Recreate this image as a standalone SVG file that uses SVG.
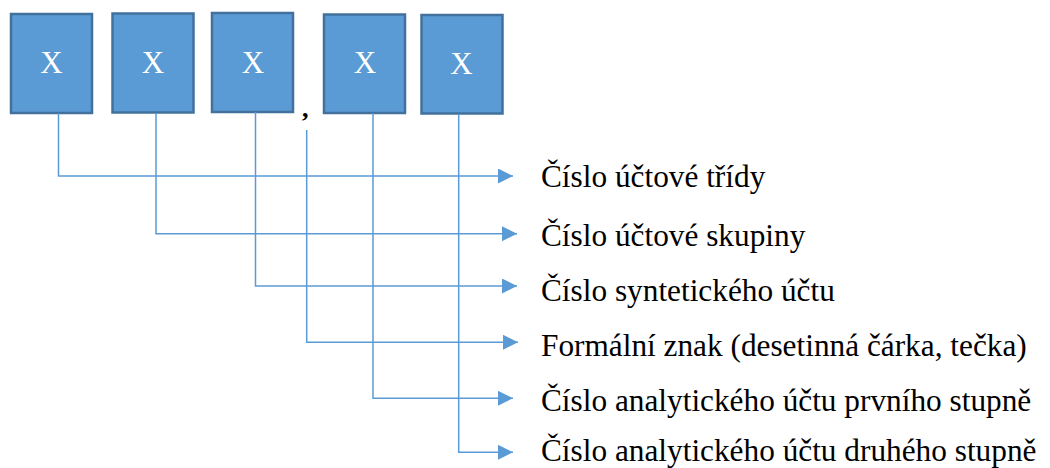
<svg xmlns="http://www.w3.org/2000/svg" width="1050" height="468" viewBox="0 0 1050 468">
<defs>
<style>
.box{fill:#5B9BD5;stroke:#41719C;stroke-width:2.5}
.x{font-family:"Liberation Serif","Times New Roman",serif;font-size:31px;fill:#ffffff;text-anchor:middle}
.lbl{font-family:"Liberation Serif","Times New Roman",serif;font-size:31.3px;fill:#000000}
.con{fill:none;stroke:#5B9BD5;stroke-width:1.5}
</style>
<marker id="arr" markerUnits="userSpaceOnUse" markerWidth="16" markerHeight="16" refX="15" refY="7.5" orient="auto">
<path d="M0,0 L15,7.5 L0,15 Z" fill="#5B9BD5"/>
</marker>
</defs>
<rect width="1050" height="468" fill="#ffffff"/>
<g id="box1"><rect class="box" x="11" y="14" width="81" height="99"/><text class="x" x="51.5" y="73">X</text></g>
<g id="box2"><rect class="box" x="112.5" y="13.5" width="81" height="99"/><text class="x" x="153" y="73">X</text></g>
<g id="box3"><rect class="box" x="212" y="13" width="81" height="99"/><text class="x" x="253" y="73">X</text></g>
<g id="box4"><rect class="box" x="324" y="14.5" width="81" height="98.5"/><text class="x" x="365" y="73">X</text></g>
<g id="box5"><rect class="box" x="421.5" y="15" width="81" height="98.5"/><text class="x" x="461.5" y="74">X</text></g>
<g id="comma"><text x="302" y="117" style="font-family:'Liberation Serif','Times New Roman',serif;font-size:26px;font-weight:bold;fill:#000">,</text></g>
<g id="connectors">
<path class="con" d="M58.5,113 V176 H513" marker-end="url(#arr)"/>
<path class="con" d="M156,113 V233.7 H517" marker-end="url(#arr)"/>
<path class="con" d="M255.5,112 V286 H517" marker-end="url(#arr)"/>
<path class="con" d="M306.7,130 V342.3 H518" marker-end="url(#arr)"/>
<path class="con" d="M373,113 V398.3 H513" marker-end="url(#arr)"/>
<path class="con" d="M458.7,114 V452.3 H513" marker-end="url(#arr)"/>
</g>
<g id="labels">
<text class="lbl" x="541" y="186.7">Číslo účtové třídy</text>
<text class="lbl" x="541" y="246">Číslo účtové skupiny</text>
<text class="lbl" x="541" y="301">Číslo syntetického účtu</text>
<text class="lbl" x="541" y="355.7">Formální znak (desetinná čárka, tečka)</text>
<text class="lbl" x="541" y="411">Číslo analytického účtu prvního stupně</text>
<text class="lbl" x="541" y="461">Číslo analytického účtu druhého stupně</text>
</g>
</svg>
